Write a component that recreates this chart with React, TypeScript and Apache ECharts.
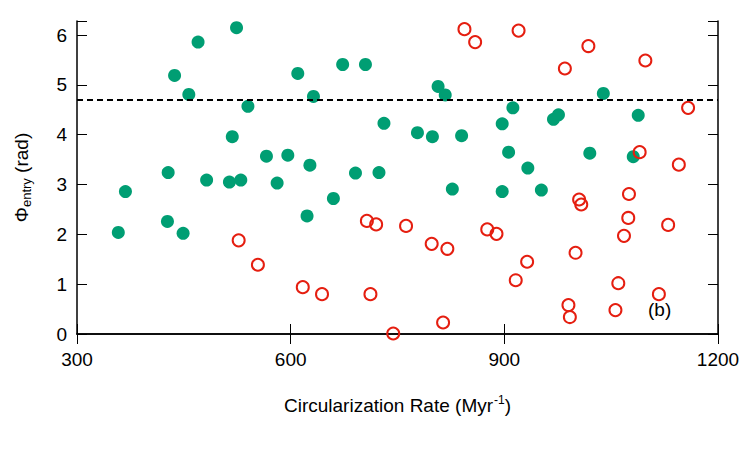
import React, { useEffect, useRef } from "react";
import * as echarts from "echarts";

// Orbits whose entry phase lies below 3π/2 vs. above it
const capturedRate = [358, 368, 427, 428, 437, 449, 457, 470, 482, 514, 518, 524, 530, 540, 566, 581, 596, 610, 623, 627, 632, 660, 673, 691, 705, 724, 731, 778, 799, 807, 817, 827, 840, 897, 897, 906, 912, 933, 952, 969, 976, 1020, 1039, 1081, 1088];
const capturedPhase = [2.04, 2.86, 2.26, 3.24, 5.19, 2.02, 4.81, 5.86, 3.09, 3.05, 3.96, 6.15, 3.09, 4.57, 3.57, 3.03, 3.59, 5.23, 2.37, 3.39, 4.77, 2.72, 5.41, 3.23, 5.41, 3.24, 4.23, 4.04, 3.96, 4.97, 4.8, 2.91, 3.98, 4.22, 2.86, 3.65, 4.54, 3.33, 2.89, 4.31, 4.4, 3.63, 4.83, 3.56, 4.39];

const escapedRate = [527, 554, 617, 644, 707, 712, 720, 744, 762, 798, 814, 820, 844, 859, 876, 889, 916, 920, 932, 985, 990, 992, 1000, 1005, 1008, 1018, 1056, 1060, 1068, 1074, 1075, 1090, 1098, 1117, 1130, 1145, 1158];
const escapedPhase = [1.88, 1.39, 0.94, 0.8, 2.27, 0.8, 2.2, 0.01, 2.17, 1.81, 0.23, 1.71, 6.12, 5.86, 2.1, 2.01, 1.08, 6.09, 1.45, 5.33, 0.58, 0.34, 1.63, 2.7, 2.6, 5.78, 0.48, 1.02, 1.97, 2.33, 2.81, 3.65, 5.49, 0.8, 2.19, 3.4, 4.54];

const rateTicks = [300, 1200];
const phaseRange = [0, 2 * Math.PI];
const thresholdPhase = 1.5 * Math.PI;
const panelTag = "(b)";

const FONT = "'Liberation Sans', Arial, Helvetica, sans-serif";
const GREEN = "#009e73";
const RED = "#e51e10";

export default function App() {
  const ref = useRef<HTMLDivElement>(null);

  useEffect(() => {
    if (!ref.current) return;
    const chart = echarts.init(ref.current, null, { renderer: "svg" });

    const capturedData = capturedRate.map((x, i) => [x, capturedPhase[i]]);
    const escapedData = escapedRate.map((x, i) => [x, escapedPhase[i]]);

    const frameLine = { show: true, lineStyle: { color: "#000", width: 1.5 } };
    const tick = { show: true, inside: true, length: 10, lineStyle: { color: "#000", width: 1 } };

    chart.setOption({
      animation: false,
      backgroundColor: "#fff",
      textStyle: { fontFamily: FONT },
      grid: { left: 77, right: 32, top: 21, bottom: 116, containLabel: false },
      xAxis: [
        {
          type: "value",
          position: "bottom",
          min: rateTicks[0],
          max: rateTicks[1],
          interval: 300,
          axisLine: frameLine,
          axisTick: tick,
          splitLine: { show: false },
          axisLabel: {
            color: "#000",
            fontSize: 19,
            fontFamily: FONT,
            margin: 16,
            formatter: (v: number) => String(v),
          },
          name: "{t|Circularization Rate (Myr}{s|-1}{t|)}",
          nameLocation: "middle",
          nameGap: 60,
          nameTextStyle: {
            rich: {
              t: { fontSize: 19, fontFamily: FONT, color: "#000", verticalAlign: "middle" },
              s: { fontSize: 12, fontFamily: FONT, color: "#000", verticalAlign: "middle", padding: [0, 0, 10, 1] },
            },
          },
        },
        {
          type: "value",
          position: "top",
          min: rateTicks[0],
          max: rateTicks[1],
          interval: 300,
          axisLine: frameLine,
          axisTick: tick,
          splitLine: { show: false },
          axisLabel: { show: false },
        },
      ],
      yAxis: [
        {
          type: "value",
          position: "left",
          min: phaseRange[0],
          max: phaseRange[1],
          interval: 1,
          axisLine: frameLine,
          axisTick: tick,
          splitLine: { show: false },
          axisLabel: {
            color: "#000",
            fontSize: 19,
            fontFamily: FONT,
            margin: 10,
            formatter: (v: number) => (Math.abs(v - Math.round(v)) < 1e-6 ? String(Math.round(v)) : ""),
          },
          name: "{p|Φ}{s|entry}{p| (rad)}",
          nameLocation: "middle",
          nameRotate: 90,
          nameGap: 44,
          nameTextStyle: {
            rich: {
              p: { fontSize: 19, fontFamily: FONT, color: "#000", verticalAlign: "middle" },
              s: { fontSize: 13, fontFamily: FONT, color: "#000", verticalAlign: "middle", padding: [10, 0, 0, 0] },
            },
          },
        },
        {
          type: "value",
          position: "right",
          min: phaseRange[0],
          max: phaseRange[1],
          interval: 1,
          axisLine: frameLine,
          axisTick: tick,
          splitLine: { show: false },
          axisLabel: { show: false },
        },
      ],
      graphic: [
        {
          type: "text",
          left: 648,
          top: 300,
          style: { text: panelTag, fontSize: 19, fontFamily: FONT, fill: "#000" },
        },
      ],
      series: [
        {
          type: "scatter",
          xAxisIndex: 0,
          yAxisIndex: 0,
          data: capturedData,
          symbol: "circle",
          symbolSize: 13,
          itemStyle: { color: GREEN, opacity: 1 },
          markLine: {
            silent: true,
            symbol: "none",
            label: { show: false },
            lineStyle: { color: "#000", width: 2.2, type: [6, 4] },
            data: [{ yAxis: thresholdPhase }],
          },
        },
        {
          type: "scatter",
          xAxisIndex: 0,
          yAxisIndex: 0,
          data: escapedData,
          symbol: "circle",
          symbolSize: 12,
          itemStyle: { color: "rgba(255,255,255,0)", borderColor: RED, borderWidth: 2, opacity: 1 },
        },
      ],
    });

    return () => chart.dispose();
  }, []);

  return (
    <div
      ref={ref}
      style={{ position: "fixed", left: 0, top: 0, width: 750, height: 450, background: "#fff" }}
    />
  );
}
